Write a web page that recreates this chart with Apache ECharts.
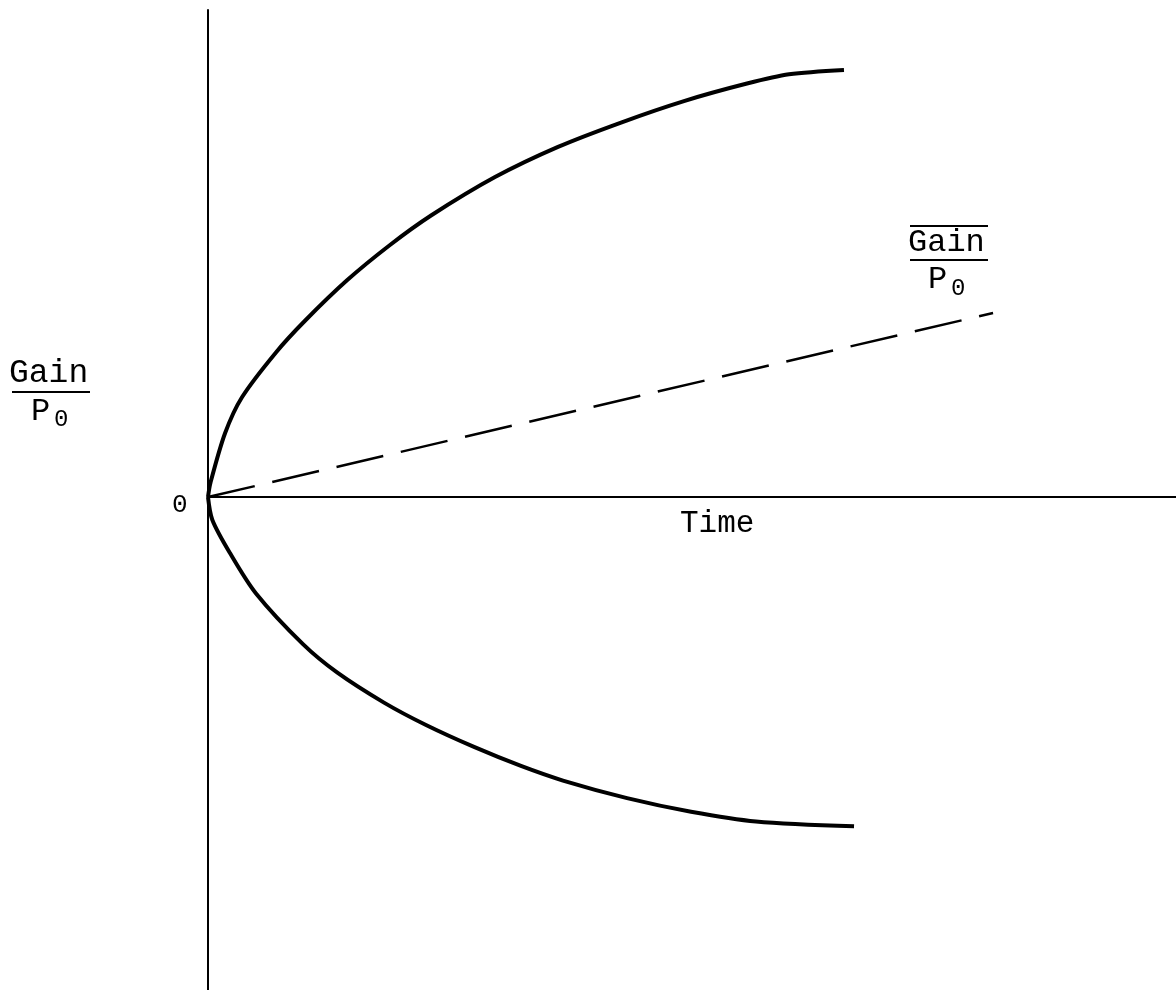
<!DOCTYPE html>
<html>
<head>
<meta charset="utf-8">
<style>
  html, body { margin: 0; padding: 0; background: #fff; }
  #chart { width: 1176px; height: 990px; }
</style>
<script src="https://cdn.jsdelivr.net/npm/echarts@6/dist/echarts.min.js"></script>
</head>
<body>
<div id="chart"></div>
<script>
  // Time / Gain (arbitrary units)
  const upperTime = [0, 0.025, 0.176, 0.351, 0.702, 1.002, 1.436, 1.870, 2.304, 2.965, 3.616, 4.267, 4.917, 5.568, 6.002, 6.570];
  const upperGain = [0, 0.29, 1.31, 2.05, 2.97, 3.62, 4.45, 5.16, 5.78, 6.57, 7.19, 7.69, 8.13, 8.49, 8.68, 8.77];

  const lowerTime = [0, 0.045, 0.227, 0.496, 0.981, 1.333, 1.818, 2.252, 2.748, 3.233, 3.667, 4.329, 4.990, 5.661, 6.674];
  const lowerGain = [0, -0.47, -1.15, -1.98, -3.02, -3.60, -4.22, -4.68, -5.13, -5.52, -5.82, -6.18, -6.46, -6.66, -6.76];

  const meanTime = [0, 8.11];
  const meanGain = [0, 3.78];

  const xRange = [0, 10];
  const yRange = [-10.12, 10];

  const zip = (xs, ys) => xs.map((x, i) => [x, ys[i]]);

  const font = '"Liberation Mono", "DejaVu Sans Mono", monospace';

  function text(str, x, y, size) {
    return {
      type: 'text',
      x: x,
      y: y,
      style: {
        text: str,
        font: size + 'px ' + font,
        fill: '#000',
        textAlign: 'left',
        textVerticalAlign: 'middle',
      },
    };
  }

  function bar(x1, x2, y) {
    return {
      type: 'line',
      shape: { x1: x1, y1: y, x2: x2, y2: y },
      style: { stroke: '#000', lineWidth: 2 },
    };
  }

  const chart = echarts.init(document.getElementById('chart'));
  chart.setOption({
    backgroundColor: '#fff',
    animation: false,
    grid: { left: 208, right: 0, top: 10, bottom: 0 },
    xAxis: {
      type: 'value',
      min: xRange[0],
      max: xRange[1],
      axisLine: { show: true, onZero: true, lineStyle: { color: '#000', width: 2 } },
      axisTick: { show: false },
      axisLabel: { show: false },
      splitLine: { show: false },
    },
    yAxis: {
      type: 'value',
      min: yRange[0],
      max: yRange[1],
      axisLine: { show: true, onZero: true, lineStyle: { color: '#000', width: 2 } },
      axisTick: { show: false },
      axisLabel: { show: false },
      splitLine: { show: false },
    },
    series: [
      {
        type: 'line',
        data: zip(upperTime, upperGain),
        smooth: 0.3,
        symbol: 'none',
        lineStyle: { color: '#000', width: 4 },
      },
      {
        type: 'line',
        data: zip(lowerTime, lowerGain),
        smooth: 0.3,
        symbol: 'none',
        lineStyle: { color: '#000', width: 4 },
      },
      {
        type: 'line',
        data: zip(meanTime, meanGain),
        symbol: 'none',
        lineStyle: { color: '#000', width: 2.5, type: [48, 18] },
      },
    ],
    graphic: [
      // left axis label: Gain / P0
      text('Gain', 9, 373, 33),
      bar(12, 90, 392),
      text('P', 31, 412, 32),
      text('0', 54, 420, 24),
      // origin
      text('0', 172, 505, 26),
      // time axis label
      text('Time', 680, 524, 31),
      // mean gain label
      bar(910, 988, 226),
      text('Gain', 908, 243, 32),
      bar(910, 988, 260),
      text('P', 928, 280, 32),
      text('0', 951, 289, 24),
    ],
  });
</script>
</body>
</html>
